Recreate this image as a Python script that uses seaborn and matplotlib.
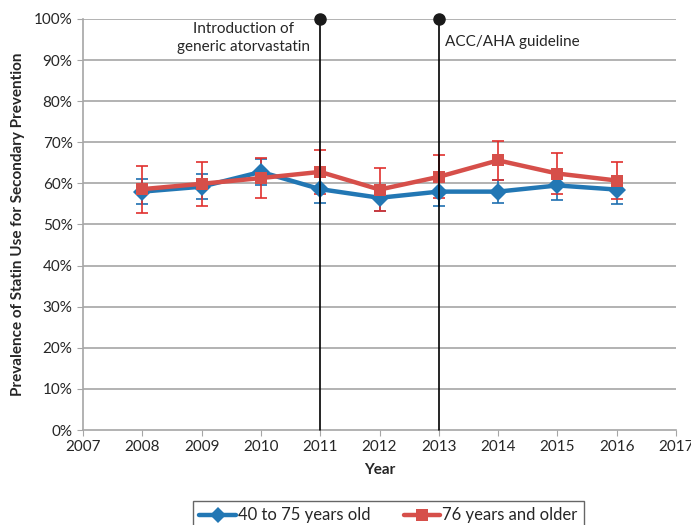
import matplotlib.pyplot as plt
import seaborn as sns
import pandas as pd
from matplotlib.lines import Line2D
from matplotlib.ticker import PercentFormatter

# Werte (Prozent)
years = [2008, 2009, 2010, 2011, 2012, 2013, 2014, 2015, 2016]
young = [58.0, 59.2, 62.8, 58.6, 56.5, 58.0, 58.0, 59.5, 58.5]
young_err = [3.0, 3.1, 3.2, 3.4, 3.2, 3.4, 2.8, 3.6, 3.4]
old = [58.6, 59.9, 61.3, 62.8, 58.5, 61.6, 65.6, 62.4, 60.7]
old_err = [5.7, 5.3, 4.9, 5.4, 5.2, 5.2, 4.8, 5.0, 4.5]
labels = ["40 to 75 years old", "76 years and older"]
events = [2011, 2013]
event_text = ["Introduction of\ngeneric atorvastatin", "ACC/AHA guideline"]

blue = "#2277b4"
red = "#d64f4a"

sns.set_style("white")
plt.rcParams['font.family'] = ['Lato', 'DejaVu Sans']

df = pd.DataFrame({"Year": years * 2,
                   "Value": young + old,
                   "Group": [labels[0]] * len(years) + [labels[1]] * len(years)})

fig = plt.figure(figsize=(6.91, 5.25), dpi=100)
ax = fig.add_axes([83 / 691, 1 - 430 / 525, (676 - 83) / 691, (430 - 19) / 525])

# Gitterlinien
for v in range(10, 101, 10):
    ax.axhline(v, color="#a6a6a6", lw=1.2, zorder=0)

# Fehlerbalken
ax.errorbar(years, young, yerr=young_err, fmt="none", ecolor="#1f6fb0",
            elinewidth=1.2, capsize=4, capthick=1.2, zorder=2)
ax.errorbar(years, old, yerr=old_err, fmt="none", ecolor="#e0302e",
            elinewidth=1.2, capsize=4, capthick=1.2, zorder=2)

sns.lineplot(data=df, x="Year", y="Value", hue="Group", style="Group",
             palette=[blue, red], markers=["D", "s"], dashes=False,
             lw=3.2, markersize=9, markeredgewidth=0, legend=False, ax=ax, zorder=3)

# Ereignislinien
for e in events:
    ax.plot([e, e], [0, 100], color="black", lw=1.2, zorder=4, clip_on=False)
    ax.plot([e], [100], "o", color="#1a1a1a", ms=8, zorder=5, clip_on=False)
ax.text(2010.82, 99.3, event_text[0], ha="right", va="top", fontsize=11,
        linespacing=1.35, multialignment="center")
ax.text(2013.1, 96.2, event_text[1], ha="left", va="top", fontsize=11)

ax.set_xlim(2007, 2017)
ax.set_ylim(0, 100)
ax.set_xticks(range(2007, 2018))
ax.set_yticks(range(0, 101, 10))
ax.yaxis.set_major_formatter(PercentFormatter(decimals=0))
ax.tick_params(axis="both", labelsize=11, length=4, color="#a6a6a6", direction="out")
ax.tick_params(axis="x", bottom=True)
ax.tick_params(axis="y", left=True)
for s in ["top", "right"]:
    ax.spines[s].set_visible(False)
for s in ["left", "bottom"]:
    ax.spines[s].set_color("#a6a6a6")
    ax.spines[s].set_linewidth(1.2)

ax.set_xlabel("Year", fontsize=11, fontweight="bold", labelpad=6)
ax.set_ylabel("Prevalence of Statin Use for Secondary Prevention", fontsize=11,
              fontweight="bold", labelpad=6)

handles = [Line2D([], [], color=blue, lw=3.2, marker="D", ms=8, mew=0),
           Line2D([], [], color=red, lw=3.2, marker="s", ms=8, mew=0)]
leg = fig.legend(handles, labels, loc="upper center", bbox_to_anchor=(0.562, 0.062),
                 ncol=2, fontsize=12, frameon=True, fancybox=False, edgecolor="#404040",
                 handlelength=2.2, handletextpad=0.1, columnspacing=2.0,
                 borderpad=0.4)
leg.get_frame().set_linewidth(1.0)

fig.savefig("out.png", dpi=100)
